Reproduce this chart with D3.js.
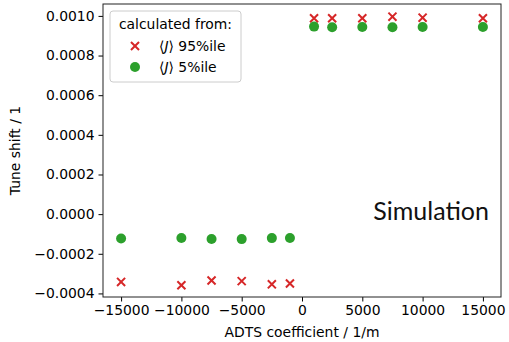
<!DOCTYPE html>
<html>
<head>
<meta charset="utf-8">
<script src="https://cdn.jsdelivr.net/npm/d3@7"></script>
<style>
  body { margin: 0; background: #fff; }
  svg text { font-family: "DejaVu Sans", sans-serif; }
</style>
</head>
<body>
<svg id="chart" width="509" height="342"></svg>
<script>
// ADTS coefficients (1/m)
var adtsNeg = [-15000, -10000, -7500, -5000, -2500, -1000];
var adtsPos = [1000, 2500, 5000, 7500, 10000, 15000];
// tune shift from <J> 95%ile
var shift95Neg = [-0.000342, -0.000359, -0.000335, -0.000338, -0.000354, -0.000350];
var shift95Pos = [0.000988, 0.000988, 0.000988, 0.000996, 0.000991, 0.000988];
// tune shift from <J> 5%ile
var shift5Neg = [-0.000123, -0.000120, -0.000125, -0.000126, -0.000121, -0.000120];
var shift5Pos = [0.000946, 0.000943, 0.000944, 0.000943, 0.000944, 0.000944];

var xTicks = [-15000, -10000, -5000, 0, 5000, 10000, 15000];
var yTicks = [-0.0004, -0.0002, 0.0000, 0.0002, 0.0004, 0.0006, 0.0008, 0.0010];

var red = "#d62728";
var green = "#2ca02c";
var fontSize = "13.9px";

let svg = d3.select("#chart");

let margin = { top: 4, right: 8, bottom: 45, left: 103 };
let bounds = svg.node().getBoundingClientRect();
let plotWidth = bounds.width - margin.left - margin.right;
let plotHeight = bounds.height - margin.top - margin.bottom;

let xScale = d3.scaleLinear()
  .domain([-16500, 16500])
  .range([0, plotWidth]);

let yScale = d3.scaleLinear()
  .domain([-0.000418, 0.00106])
  .range([plotHeight, 0]);

let plot = svg.append("g")
  .attr("transform", "translate(" + margin.left + "," + margin.top + ")");

let minus = (s) => s.replace("-", "\u2212");

// X-axis
let xGroup = plot.append("g")
  .attr("transform", "translate(0," + plotHeight + ")")
  .call(d3.axisBottom(xScale).tickValues(xTicks).tickSize(4.5).tickPadding(4)
    .tickFormat((d) => minus(d3.format("d")(d))));

// Y-axis
let yGroup = plot.append("g")
  .call(d3.axisLeft(yScale).tickValues(yTicks).tickSize(4.5).tickPadding(4)
    .tickFormat((d) => minus(d3.format(".4f")(d))));

[xGroup, yGroup].forEach((g) => {
  g.select(".domain").remove();
  g.selectAll("line").attr("stroke", "#000").attr("stroke-width", 1);
  g.selectAll("text").style("font-size", fontSize).attr("fill", "#000")
    .style("font-family", "DejaVu Sans");
});

// frame
plot.append("rect")
  .attr("x", 0).attr("y", 0)
  .attr("width", plotWidth).attr("height", plotHeight)
  .attr("fill", "none").attr("stroke", "#222").attr("stroke-width", 1);

let adts = adtsNeg.concat(adtsPos);
let pts95 = adts.map((x, i) => ({ x: x, y: shift95Neg.concat(shift95Pos)[i] }));
let pts5 = adts.map((x, i) => ({ x: x, y: shift5Neg.concat(shift5Pos)[i] }));

let crossPath = d3.symbol().type(d3.symbolX).size(44);

plot.append("g").selectAll("path")
  .data(pts95)
  .join("path")
  .attr("d", crossPath)
  .attr("transform", (d) => "translate(" + xScale(d.x) + "," + yScale(d.y) + ")")
  .attr("fill", "none")
  .attr("stroke", red)
  .attr("stroke-width", 2);

plot.append("g").selectAll("circle")
  .data(pts5)
  .join("circle")
  .attr("cx", (d) => xScale(d.x))
  .attr("cy", (d) => yScale(d.y))
  .attr("r", 5)
  .attr("fill", green);

// Simulation label
plot.append("text")
  .text("Simulation")
  .attr("x", plotWidth - 12)
  .attr("y", 216)
  .attr("text-anchor", "end")
  .style("font-family", "Lato")
  .style("font-weight", 400)
  .style("font-size", "25px")
  .attr("fill", "#111");

// Legend
let legend = plot.append("g").attr("transform", "translate(7,7)");
legend.append("rect")
  .attr("width", 131).attr("height", 71)
  .attr("rx", 3)
  .attr("fill", "#fff").attr("fill-opacity", 0.8)
  .attr("stroke", "#ccc").attr("stroke-width", 1);
legend.append("text")
  .text("calculated from:")
  .attr("x", 65.5).attr("y", 18)
  .attr("text-anchor", "middle")
  .style("font-size", fontSize);

let entries = [
  { label: " 95%ile", color: red, kind: "x" },
  { label: " 5%ile", color: green, kind: "o" }
];
entries.forEach((e, i) => {
  let y = 35 + i * 21;
  if (e.kind === "x") {
    legend.append("path")
      .attr("d", crossPath)
      .attr("transform", "translate(25," + y + ")")
      .attr("fill", "none").attr("stroke", e.color).attr("stroke-width", 2);
  } else {
    legend.append("circle")
      .attr("cx", 25).attr("cy", y).attr("r", 5).attr("fill", e.color);
  }
  let t = legend.append("text")
    .attr("x", 49).attr("y", y + 5)
    .style("font-size", fontSize);
  t.append("tspan").text("\u27E8");
  t.append("tspan").text("J").style("font-style", "italic");
  t.append("tspan").text("\u27E9");
  t.append("tspan").text(e.label);
});

// Axis titles
svg.append("text")
  .text("ADTS coefficient / 1/m")
  .attr("x", margin.left + xScale(0))
  .attr("y", 337)
  .attr("text-anchor", "middle")
  .style("font-size", fontSize);

svg.append("text")
  .text("Tune shift / 1")
  .attr("transform", "translate(20," + (margin.top + plotHeight / 2) + ") rotate(-90)")
  .attr("text-anchor", "middle")
  .style("font-size", fontSize);
</script>
</body>
</html>
